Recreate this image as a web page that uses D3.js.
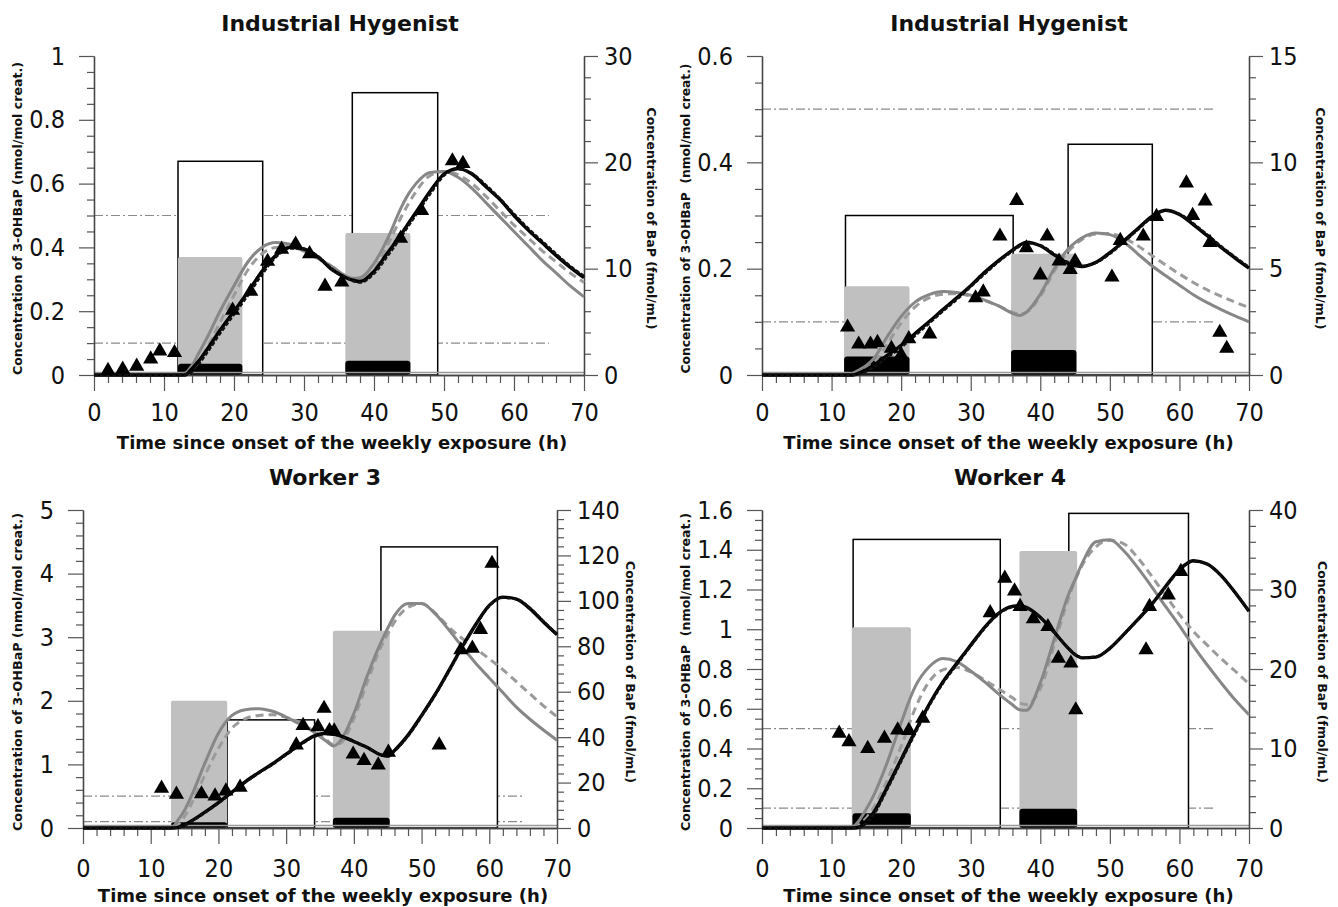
<!DOCTYPE html>
<html>
<head>
<meta charset="utf-8">
<script src="https://cdn.jsdelivr.net/npm/d3@7/dist/d3.min.js"></script>
<style>
  body { margin: 0; background: #fff; }
  svg { display: block; }
  .tick-num { font-family: "Liberation Sans Narrow", "DejaVu Sans Condensed", "DejaVu Sans", sans-serif; font-stretch: condensed; font-size: 25px; fill: #111; }
  .panel-title { font-family: "DejaVu Sans", sans-serif; font-weight: bold; font-size: 22px; fill: #111; }
  .x-title { font-family: "DejaVu Sans", sans-serif; font-weight: bold; font-size: 18px; fill: #111; }
  .y-title { font-family: "DejaVu Sans", sans-serif; font-weight: bold; font-size: 12px; fill: #111; }
</style>
</head>
<body>
<script>
const width = 1338;
const height = 907;

// model time grid (h) shared by every simulated curve
const time = [0, 12, 13, 14, 15, 16, 18, 20, 22, 24, 26, 28, 30, 32, 34, 36, 37, 38, 40, 42, 44, 45, 46, 48, 50, 52, 54, 56, 58, 60, 62, 64, 66, 68, 70];
const thresholds = [0.1, 0.5];
const thresholdEnd = 65;

// Industrial Hygenist (first)
const p1BlackSolid = [0, 0, 0, 0.02, 0.045, 0.075, 0.14, 0.2, 0.26, 0.325, 0.375, 0.4, 0.395, 0.37, 0.33, 0.305, 0.297, 0.293, 0.325, 0.385, 0.445, 0.478, 0.51, 0.575, 0.63, 0.647, 0.63, 0.59, 0.55, 0.5, 0.455, 0.415, 0.375, 0.338, 0.305];
const p1BlackDash = [0, 0, 0, 0.01, 0.035, 0.065, 0.13, 0.19, 0.25, 0.315, 0.37, 0.397, 0.395, 0.372, 0.333, 0.305, 0.295, 0.29, 0.318, 0.375, 0.437, 0.47, 0.502, 0.567, 0.625, 0.645, 0.632, 0.595, 0.553, 0.505, 0.46, 0.42, 0.38, 0.342, 0.31];
const p1GreySolid = [0, 0, 0.005, 0.03, 0.07, 0.11, 0.2, 0.28, 0.355, 0.4, 0.415, 0.41, 0.39, 0.365, 0.34, 0.31, 0.303, 0.305, 0.35, 0.43, 0.53, 0.57, 0.6, 0.635, 0.638, 0.62, 0.585, 0.54, 0.495, 0.45, 0.405, 0.36, 0.32, 0.28, 0.245];
const p1GreyDash = [0, 0, 0, 0.015, 0.045, 0.08, 0.165, 0.25, 0.33, 0.38, 0.4, 0.402, 0.388, 0.365, 0.337, 0.308, 0.3, 0.297, 0.33, 0.41, 0.5, 0.54, 0.575, 0.625, 0.638, 0.628, 0.6, 0.56, 0.515, 0.47, 0.43, 0.39, 0.355, 0.32, 0.29];
const p1ObsTime = [2.0, 4.1, 6.1, 8.1, 9.4, 11.5, 19.8, 22.4, 24.8, 26.8, 28.8, 30.8, 33.0, 35.4, 43.8, 46.8, 51.2, 52.7];
const p1ObsValue = [0.014, 0.018, 0.027, 0.05, 0.075, 0.07, 0.203, 0.262, 0.356, 0.394, 0.41, 0.38, 0.278, 0.291, 0.428, 0.515, 0.671, 0.663];
const p1Open = [[12.0, 24.1, 0.67], [36.9, 49.1, 0.885]];
const p1Grey = [[12.0, 21.2, 0.37], [35.9, 45.2, 0.445]];
const p1Black = [[12.0, 21.2, 0.035], [35.9, 45.2, 0.045]];

// Industrial Hygenist (second)
const p2BlackSolid = [0, 0, 0, 0.004, 0.01, 0.018, 0.037, 0.056, 0.078, 0.1, 0.123, 0.145, 0.168, 0.193, 0.215, 0.235, 0.244, 0.25, 0.243, 0.226, 0.21, 0.206, 0.204, 0.212, 0.23, 0.252, 0.275, 0.298, 0.31, 0.302, 0.283, 0.262, 0.24, 0.22, 0.201];
const p2BlackDash = [0, 0, 0, 0.002, 0.007, 0.014, 0.033, 0.052, 0.074, 0.097, 0.12, 0.142, 0.166, 0.19, 0.213, 0.233, 0.242, 0.248, 0.244, 0.228, 0.212, 0.207, 0.205, 0.211, 0.228, 0.25, 0.273, 0.296, 0.309, 0.303, 0.285, 0.264, 0.242, 0.222, 0.203];
const p2GreySolid = [0, 0, 0.003, 0.01, 0.018, 0.03, 0.072, 0.11, 0.137, 0.151, 0.157, 0.155, 0.15, 0.141, 0.13, 0.116, 0.112, 0.118, 0.152, 0.2, 0.237, 0.249, 0.258, 0.267, 0.264, 0.25, 0.228, 0.206, 0.187, 0.169, 0.151, 0.136, 0.123, 0.111, 0.1];
const p2GreyDash = [0, 0, 0, 0.005, 0.012, 0.022, 0.058, 0.098, 0.128, 0.145, 0.152, 0.153, 0.148, 0.14, 0.13, 0.118, 0.115, 0.118, 0.148, 0.195, 0.232, 0.245, 0.255, 0.265, 0.266, 0.258, 0.243, 0.225, 0.207, 0.19, 0.174, 0.16, 0.148, 0.137, 0.127];
const p2ObsTime = [12.3, 13.9, 15.6, 16.6, 18.6, 20.0, 21.1, 24.1, 30.7, 31.8, 34.2, 36.6, 38.0, 40.0, 41.0, 42.7, 44.3, 45.0, 50.3, 51.5, 54.8, 56.7, 61.0, 61.9, 63.7, 64.4, 65.8, 66.8];
const p2ObsValue = [0.09, 0.058, 0.058, 0.061, 0.05, 0.038, 0.068, 0.077, 0.145, 0.156, 0.261, 0.328, 0.239, 0.188, 0.261, 0.214, 0.198, 0.214, 0.184, 0.253, 0.261, 0.298, 0.361, 0.3, 0.327, 0.249, 0.08, 0.05];
const p2Open = [[12.0, 36.1, 0.3], [44.0, 56.1, 0.434]];
const p2Grey = [[11.8, 21.2, 0.167], [35.8, 45.2, 0.228]];
const p2Black = [[11.8, 21.2, 0.035], [35.8, 45.2, 0.047]];

// Worker 3
const p3BlackSolid = [0, 0, 0, 0.01, 0.05, 0.11, 0.25, 0.4, 0.565, 0.73, 0.875, 1.01, 1.16, 1.31, 1.44, 1.49, 1.475, 1.45, 1.36, 1.265, 1.15, 1.13, 1.22, 1.46, 1.77, 2.1, 2.47, 2.85, 3.2, 3.5, 3.63, 3.6, 3.45, 3.24, 3.04];
const p3BlackDash = [0, 0, 0, 0.005, 0.04, 0.1, 0.24, 0.39, 0.555, 0.72, 0.865, 1.0, 1.15, 1.3, 1.43, 1.48, 1.47, 1.445, 1.355, 1.26, 1.15, 1.13, 1.21, 1.445, 1.755, 2.085, 2.455, 2.835, 3.19, 3.49, 3.62, 3.6, 3.46, 3.25, 3.05];
const p3GreySolid = [0, 0, 0, 0.12, 0.28, 0.5, 1.02, 1.49, 1.77, 1.86, 1.876, 1.835, 1.745, 1.635, 1.515, 1.36, 1.29, 1.37, 1.8, 2.4, 2.92, 3.14, 3.34, 3.53, 3.53, 3.37, 3.12, 2.85, 2.59, 2.36, 2.13, 1.9, 1.71, 1.54, 1.38];
const p3GreyDash = [0, 0, 0, 0.05, 0.18, 0.38, 0.83, 1.25, 1.57, 1.72, 1.77, 1.78, 1.74, 1.66, 1.53, 1.38, 1.31, 1.33, 1.72, 2.3, 2.85, 3.05, 3.24, 3.47, 3.53, 3.38, 3.16, 2.98, 2.82, 2.66, 2.49, 2.3, 2.11, 1.92, 1.75];
const p3ObsTime = [11.6, 13.8, 17.5, 19.5, 21.1, 23.2, 31.5, 32.5, 34.7, 35.6, 36.4, 37.1, 39.9, 41.5, 43.6, 45.1, 52.6, 55.8, 57.5, 58.7, 60.4];
const p3ObsValue = [0.624, 0.53, 0.535, 0.503, 0.58, 0.64, 1.305, 1.61, 1.59, 1.88, 1.53, 1.525, 1.16, 1.06, 0.99, 1.19, 1.305, 2.8, 2.825, 3.12, 4.16];
const p3Open = [[21.3, 34.2, 1.7], [44.0, 61.2, 4.42]];
const p3Grey = [[13.0, 21.3, 2.0], [36.9, 45.3, 3.1]];
const p3Black = [[13.0, 21.3, 0.09], [36.9, 45.3, 0.16]];

// Worker 4
const p4BlackSolid = [0, 0, 0, 0.005, 0.035, 0.075, 0.205, 0.345, 0.485, 0.62, 0.735, 0.829, 0.92, 1.01, 1.08, 1.115, 1.118, 1.11, 1.06, 0.985, 0.905, 0.872, 0.856, 0.86, 0.904, 0.974, 1.048, 1.125, 1.215, 1.3, 1.345, 1.328, 1.27, 1.185, 1.09];
const p4BlackDash = [0, 0, 0, 0.003, 0.025, 0.065, 0.195, 0.335, 0.475, 0.612, 0.728, 0.822, 0.915, 1.005, 1.077, 1.112, 1.116, 1.108, 1.058, 0.985, 0.906, 0.874, 0.858, 0.862, 0.905, 0.973, 1.046, 1.123, 1.212, 1.297, 1.343, 1.327, 1.27, 1.186, 1.092];
const p4GreySolid = [0, 0, 0.005, 0.04, 0.095, 0.16, 0.33, 0.53, 0.71, 0.81, 0.853, 0.837, 0.79, 0.735, 0.675, 0.62, 0.595, 0.592, 0.73, 0.95, 1.17, 1.25, 1.33, 1.44, 1.45, 1.395, 1.31, 1.215, 1.115, 1.018, 0.915, 0.82, 0.73, 0.645, 0.57];
const p4GreyDash = [0, 0, 0, 0.02, 0.05, 0.1, 0.24, 0.41, 0.6, 0.735, 0.796, 0.808, 0.785, 0.745, 0.7, 0.655, 0.63, 0.622, 0.7, 0.92, 1.15, 1.245, 1.32, 1.415, 1.447, 1.43, 1.36, 1.268, 1.17, 1.075, 0.99, 0.92, 0.852, 0.79, 0.725];
const p4ObsTime = [11.1, 12.5, 15.2, 17.6, 19.5, 21.1, 23.1, 32.8, 34.9, 36.3, 37.1, 39.0, 41.1, 42.6, 44.4, 45.1, 55.2, 55.7, 58.4, 60.2];
const p4ObsValue = [0.476, 0.434, 0.4, 0.451, 0.493, 0.49, 0.552, 1.083, 1.256, 1.192, 1.114, 1.052, 1.013, 0.854, 0.829, 0.594, 0.896, 1.114, 1.172, 1.29];
const p4Open = [[13.1, 34.25, 1.452], [44.1, 61.3, 1.583]];
const p4Grey = [[12.9, 21.4, 1.01], [37.0, 45.3, 1.394]];
const p4Black = [[13.0, 21.4, 0.074], [37.0, 45.3, 0.097]];

const yTitleA = 'Concentration of 3-OHBaP (nmol/mol creat.)';
const yTitleB = 'Concentration of 3-OHBaP \u00a0(nmol/mol creat.)';
const rTitle = 'Concentration of BaP (fmol/mL)';
const xTitle = 'Time since onset of the weekly exposure (h)';

const panels = [
  { title: 'Industrial Hygenist', left: 94, right: 584, top: 56, bottom: 375, titleX: 340, titleY: 31,
    yMax: 1, yStep: 0.2, yMinor: 0.05, rMax: 30, rStep: 10, rMinor: 2,
    yTitle: yTitleA, yTitleX: 18, yTitleLen: 313, rTitleX: 651, xPad: 12, xTitleY: 442,
    curves: [p1GreyDash, p1GreySolid, p1BlackSolid, p1BlackDash],
    obsTime: p1ObsTime, obsValue: p1ObsValue, open: p1Open, grey: p1Grey, black: p1Black },
  { title: 'Industrial Hygenist', left: 762, right: 1249, top: 56, bottom: 375, titleX: 1009, titleY: 31,
    yMax: 0.6, yStep: 0.2, yMinor: 0.05, rMax: 15, rStep: 5, rMinor: 1,
    yTitle: yTitleB, yTitleX: 686, yTitleLen: 310, rTitleX: 1320, xPad: 12, xTitleY: 442,
    curves: [p2GreyDash, p2GreySolid, p2BlackSolid, p2BlackDash],
    obsTime: p2ObsTime, obsValue: p2ObsValue, open: p2Open, grey: p2Grey, black: p2Black },
  { title: 'Worker 3', left: 83, right: 557, top: 510, bottom: 828, titleX: 325, titleY: 485,
    yMax: 5, yStep: 1, yMinor: 0.2, rMax: 140, rStep: 20, rMinor: 4,
    yTitle: yTitleA, yTitleX: 18, yTitleLen: 318, rTitleX: 630, xPad: 15, xTitleY: 895,
    curves: [p3GreyDash, p3GreySolid, p3BlackSolid, p3BlackDash],
    obsTime: p3ObsTime, obsValue: p3ObsValue, open: p3Open, grey: p3Grey, black: p3Black },
  { title: 'Worker 4', left: 762, right: 1249, top: 510, bottom: 828, titleX: 1010, titleY: 485,
    yMax: 1.6, yStep: 0.2, yMinor: 0.05, rMax: 40, rStep: 10, rMinor: 2,
    yTitle: yTitleB, yTitleX: 686, yTitleLen: 318, rTitleX: 1322, xPad: 15, xTitleY: 895,
    curves: [p4GreyDash, p4GreySolid, p4BlackSolid, p4BlackDash],
    obsTime: p4ObsTime, obsValue: p4ObsValue, open: p4Open, grey: p4Grey, black: p4Black }
];

const curveStyles = [
  { stroke: '#9b9b9b', width: 3, dash: '8,5' },
  { stroke: '#878787', width: 3, dash: null },
  { stroke: '#000', width: 3.4, dash: null },
  { stroke: '#111', width: 2.6, dash: '4,2' }
];

const svg = d3.select('body').append('svg')
    .attr('width', width)
    .attr('height', height);

const fmt = d3.format('~g');
const near = (list, v) => list.some(m => Math.abs(m - v) < 1e-9);

panels.forEach(p => {
    const g = svg.append('g');
    const x = d3.scaleLinear().domain([0, 70]).range([p.left, p.right]);
    const y = d3.scaleLinear().domain([0, p.yMax]).range([p.bottom, p.top]);
    const yr = d3.scaleLinear().domain([0, p.rMax]).range([p.bottom, p.top]);

    // limit lines
    g.selectAll('line.limit').data(thresholds).join('line')
        .attr('class', 'limit')
        .attr('x1', x(0)).attr('x2', x(thresholdEnd))
        .attr('y1', d => y(d)).attr('y2', d => y(d))
        .attr('stroke', '#8a8a8a')
        .attr('stroke-width', 1.2)
        .attr('stroke-dasharray', '9,3,2,3');

    g.selectAll('rect.open').data(p.open).join('rect')
        .attr('class', 'open')
        .attr('x', d => x(d[0]))
        .attr('width', d => x(d[1]) - x(d[0]))
        .attr('y', d => y(d[2]))
        .attr('height', d => y(0) - y(d[2]))
        .attr('fill', '#fff')
        .attr('stroke', '#000')
        .attr('stroke-width', 1.5);

    g.selectAll('rect.grey').data(p.grey).join('rect')
        .attr('class', 'grey')
        .attr('x', d => x(d[0]))
        .attr('width', d => x(d[1]) - x(d[0]))
        .attr('y', d => y(d[2]))
        .attr('height', d => y(0) - y(d[2]))
        .attr('rx', 2)
        .attr('fill', '#c0c0c0');

    g.selectAll('rect.black').data(p.black).join('rect')
        .attr('class', 'black')
        .attr('x', d => x(d[0]))
        .attr('width', d => x(d[1]) - x(d[0]))
        .attr('y', d => y(d[2]))
        .attr('height', d => y(0) - y(d[2]))
        .attr('rx', 3)
        .attr('fill', '#000');

    // axes
    const yMajor = d3.range(0, p.yMax + 1e-9, p.yStep);
    const yMinor = d3.range(0, p.yMax + 1e-9, p.yMinor).filter(v => !near(yMajor, v));
    const rMajor = d3.range(0, p.rMax + 1e-9, p.rStep);
    const rMinor = d3.range(0, p.rMax + 1e-9, p.rMinor).filter(v => !near(rMajor, v));
    const xMajor = d3.range(0, 71, 10);
    const xMinor = d3.range(0, 71, 2).filter(v => !near(xMajor, v));

    const axes = g.append('g');
    axes.append('line')
        .attr('x1', x(0)).attr('x2', x(70))
        .attr('y1', y(0) - 2.5).attr('y2', y(0) - 2.5)
        .attr('stroke', '#999').attr('stroke-width', 1.5);

    axes.append('g').attr('transform', `translate(${p.left},0)`)
        .call(d3.axisLeft(y).tickValues(yMinor).tickSize(7).tickSizeOuter(0).tickFormat(''));
    axes.append('g').attr('transform', `translate(${p.left},0)`)
        .call(d3.axisLeft(y).tickValues(yMajor).tickSize(15).tickPadding(14).tickSizeOuter(0).tickFormat(fmt));
    axes.append('g').attr('transform', `translate(${p.right},0)`)
        .call(d3.axisRight(yr).tickValues(rMinor).tickSize(7).tickSizeOuter(0).tickFormat(''));
    axes.append('g').attr('transform', `translate(${p.right},0)`)
        .call(d3.axisRight(yr).tickValues(rMajor).tickSize(14).tickPadding(6).tickSizeOuter(0).tickFormat(fmt));
    axes.append('g').attr('transform', `translate(0,${p.bottom})`)
        .call(d3.axisBottom(x).tickValues(xMinor).tickSize(8).tickSizeOuter(0).tickFormat(''));
    axes.append('g').attr('transform', `translate(0,${p.bottom})`)
        .call(d3.axisBottom(x).tickValues(xMajor).tickSize(16).tickPadding(p.xPad).tickSizeOuter(0).tickFormat(fmt));

    axes.selectAll('.domain').attr('stroke', '#444').attr('stroke-width', 1.3);
    axes.selectAll('.tick line').attr('stroke', '#555').attr('stroke-width', 1.2);
    axes.selectAll('.tick text').attr('class', 'tick-num');

    // simulated curves
    const line = d3.line()
        .x((d, i) => x(time[i]))
        .y(d => y(d))
        .curve(d3.curveMonotoneX);

    p.curves.forEach((c, i) => {
        const s = curveStyles[i];
        g.append('path')
            .datum(c)
            .attr('d', line)
            .attr('fill', 'none')
            .attr('stroke', s.stroke)
            .attr('stroke-width', s.width)
            .attr('stroke-dasharray', s.dash)
            .attr('stroke-linejoin', 'round');
    });

    // measured urine samples
    g.selectAll('path.obs').data(p.obsTime).join('path')
        .attr('class', 'obs')
        .attr('d', d3.symbol(d3.symbolTriangle).size(100))
        .attr('transform', (d, i) => `translate(${x(d)},${y(p.obsValue[i])})`)
        .attr('fill', '#000');

    // titles
    g.append('text')
        .attr('class', 'panel-title')
        .attr('x', p.titleX).attr('y', p.titleY)
        .attr('text-anchor', 'middle')
        .text(p.title);

    g.append('text')
        .attr('class', 'x-title')
        .attr('x', (p.left + p.right) / 2 + 3).attr('y', p.xTitleY)
        .attr('text-anchor', 'middle')
        .attr('dominant-baseline', 'central')
        .text(xTitle);

    g.append('text')
        .attr('class', 'y-title')
        .attr('transform', `translate(${p.yTitleX},${(p.top + p.bottom) / 2 + 3}) rotate(-90)`)
        .attr('text-anchor', 'middle')
        .attr('dominant-baseline', 'central')
        .attr('textLength', p.yTitleLen)
        .attr('lengthAdjust', 'spacingAndGlyphs')
        .text(p.yTitle);

    g.append('text')
        .attr('class', 'y-title')
        .attr('transform', `translate(${p.rTitleX},${(p.top + p.bottom) / 2 + 3}) rotate(90)`)
        .attr('text-anchor', 'middle')
        .attr('dominant-baseline', 'central')
        .attr('textLength', 222)
        .attr('lengthAdjust', 'spacingAndGlyphs')
        .text(rTitle);
});
</script>
</body>
</html>
